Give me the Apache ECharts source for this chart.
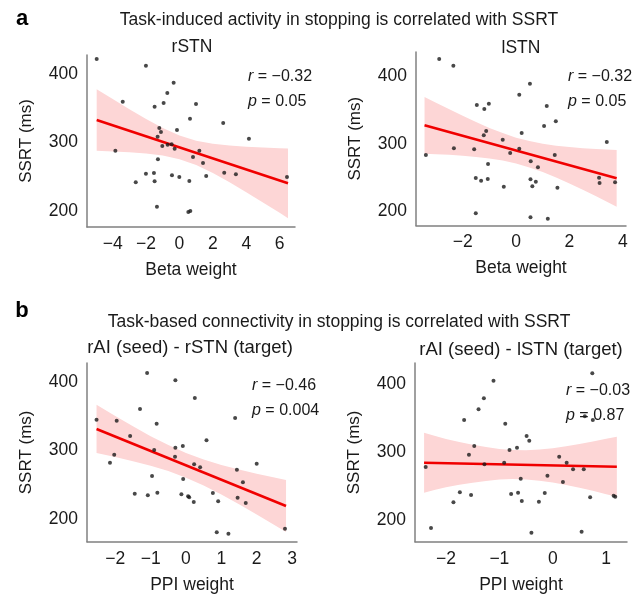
<!DOCTYPE html>
<html>
<head>
<meta charset="utf-8">
<script src="https://cdn.jsdelivr.net/npm/echarts@6/dist/echarts.min.js"></script>
<style>
  html, body { margin: 0; background: #fff; }
  #chart { width: 643px; height: 595px; }
</style>
</head>
<body>
<div id="chart"></div>
<script>
// panel a, left: rSTN beta weight vs SSRT
const rstnPoints = [[-4.96,421.9],[-2.01,412.1],[-0.35,387.3],[-0.73,372.3],[-3.40,359.6],[-0.95,357.7],[0.99,356.2],[-1.49,352.3],[0.63,334.7],[2.62,328.5],[-1.21,321.2],[-1.11,315.3],[-0.15,318.2],[-1.31,308.5],[4.16,305.5],[-3.84,288.0],[-1.03,294.9],[-0.71,296.8],[-0.47,297.4],[-0.29,290.9],[1.19,288.0],[0.81,278.8],[-1.29,275.5],[1.41,270.1],[-2.01,254.5],[-1.53,255.5],[-0.45,252.1],[-0.01,249.6],[1.60,251.1],[2.68,255.9],[3.38,253.6],[6.44,249.6],[-2.62,241.9],[-1.49,243.4],[0.59,243.8],[-1.35,206.3],[0.53,198.5],[0.65,200.0]]
const rstnFit = [[-4.96,332.8],[6.5,240.4]]
const rstnBandX = [-4.96,-4,-3,-2,-1,0,1,2,3,4,5,6,6.5]
const rstnBandLow = [287.8,286.9,285.6,283.9,280.8,275.6,267.1,255.4,242.0,227.5,212.5,197.3,189.5]
const rstnBandHigh = [377.8,363.3,348.4,334.1,321.0,310.0,302.5,298.0,295.4,293.7,292.5,291.7,291.3]

// panel a, right: lSTN
const lstnPoints = [[-2.88,425.1],[-2.35,415.2],[0.52,388.6],[0.12,372.4],[-1.47,357.2],[-1.02,359.1],[-1.19,351.3],[1.15,355.8],[1.49,333.2],[1.05,326.3],[-1.12,318.9],[0.21,315.9],[-1.21,312.5],[-0.50,306.0],[3.40,302.7],[-2.33,293.4],[-1.57,291.9],[0.12,292.8],[-3.38,283.5],[-0.22,286.4],[1.45,283.5],[0.55,274.2],[-1.05,270.2],[0.82,265.3],[-1.51,249.6],[-1.31,245.6],[-1.06,248.1],[0.54,247.6],[0.74,244.1],[3.11,250.0],[3.13,242.2],[3.71,243.2],[-0.46,236.7],[0.61,237.3],[1.55,235.3],[-1.51,197.5],[0.54,191.6],[1.19,189.5]]
const lstnFit = [[-3.43,327.3],[3.77,249.1]]
const lstnBandX = [-3.43,-3,-2.5,-2,-1.5,-1,-0.5,0,0.5,1,1.5,2,2.5,3,3.77]
const lstnBandLow = [285.5,284.7,283.7,282.4,280.6,278.4,275.2,270.9,265.1,258.3,250.2,241.5,232.2,222.6,207.3]
const lstnBandHigh = [369.1,360.5,350.8,341.2,332.2,323.4,315.8,309.1,304.1,300.1,297.3,295.1,293.6,292.4,290.9]

// panel b, left: rAI - rSTN PPI weight vs SSRT
const aiRstnPoints = [[-1.10,413.1],[-0.30,402.5],[0.25,376.6],[-1.30,360.6],[-2.53,345.0],[-1.96,343.5],[-0.83,339.1],[1.39,347.4],[-1.58,321.2],[0.58,314.9],[-0.30,304.1],[-0.09,306.6],[-0.90,300.7],[-2.03,293.9],[-0.31,290.9],[-2.15,282.2],[0.23,279.9],[0.40,275.5],[2.00,280.7],[1.44,272.0],[-0.96,262.8],[-0.08,258.4],[1.61,253.6],[-1.45,236.9],[-1.08,234.6],[-0.81,238.4],[-0.13,236.1],[0.06,233.1],[0.09,231.7],[0.22,224.8],[0.76,238.0],[0.91,225.8],[1.46,231.1],[1.69,223.4],[0.87,180.6],[1.20,178.5],[2.80,185.8]]
const aiRstnFit = [[-2.53,331.4],[2.83,219.0]]
const aiRstnBandX = [-2.53,-2,-1.5,-1,-0.5,0,0.5,1,1.5,2,2.5,2.83]
const aiRstnBandLow = [296.2,290.4,284.3,277.7,270.0,260.4,249.0,235.9,221.6,206.6,191.2,180.9]
const aiRstnBandHigh = [366.6,350.2,335.3,320.9,308.0,296.4,286.8,278.9,272.2,266.2,260.6,257.1]

// panel b, right: rAI - lSTN
const aiLstnPoints = [[0.74,416.2],[-1.11,405.2],[-1.29,379.3],[-1.39,363.0],[-1.66,347.2],[0.60,352.7],[0.75,347.2],[-0.89,341.8],[-0.49,323.6],[-0.44,316.7],[-1.47,308.9],[-0.67,306.3],[-0.81,303.0],[-1.57,296.0],[0.12,293.1],[-1.28,281.8],[-0.91,284.2],[0.26,284.2],[-2.38,277.9],[0.38,274.5],[0.58,274.5],[-0.10,265.0],[-0.60,260.6],[0.19,255.7],[-1.74,240.5],[-1.53,236.5],[-0.78,238.0],[-0.65,239.9],[-0.15,239.5],[-1.86,225.8],[-0.58,227.7],[-0.26,226.6],[0.70,233.1],[1.14,235.5],[1.17,234.0],[-2.28,187.8],[-0.40,180.9],[0.54,182.4]]
const aiLstnFit = [[-2.41,284.2],[1.2,278.3]]
const aiLstnBandX = [-2.41,-2.2,-2,-1.75,-1.5,-1.25,-1,-0.75,-0.5,-0.25,0,0.25,0.5,0.75,1,1.2]
const aiLstnBandLow = [239.9,244.2,247.9,251.6,254.6,257.3,259.3,260.0,259.5,257.7,254.9,251.4,247.2,242.7,237.8,233.9]
const aiLstnBandHigh = [328.5,323.6,319.1,314.6,310.8,307.3,304.5,303.0,302.7,303.6,305.7,308.5,311.8,315.4,319.4,322.7]

const betaTicks1 = [-4, -2, 0, 2, 4, 6]
const betaTicks2 = [-2, 0, 2, 4]
const ppiTicks1 = [-2, -1, 0, 1, 2, 3]
const ppiTicks2 = [-2, -1, 0, 1]
const ssrtTicks = [200, 300, 400]

const FONT = '"Liberation Sans", Arial, Helvetica, sans-serif'
const AXIS_COLOR = '#808080'
const TEXT = '#1a1a1a'
const FS = 17.5

const panels = [
  { grid: { left: 87, top: 55, width: 208, height: 172 }, x: [-5.54, 6.92], y: [176.6, 427.7],
    xTicks: betaTicks1, xName: 'Beta weight', pts: rstnPoints, fit: rstnFit,
    bx: rstnBandX, lo: rstnBandLow, hi: rstnBandHigh },
  { grid: { left: 416, top: 52, width: 210, height: 173.5 }, x: [-3.75, 4.12], y: [179.5, 435.4],
    xTicks: betaTicks2, xName: 'Beta weight', pts: lstnPoints, fit: lstnFit,
    bx: lstnBandX, lo: lstnBandLow, hi: lstnBandHigh },
  { grid: { left: 87, top: 363, width: 210, height: 178.7 }, x: [-2.80, 3.14], y: [166.9, 427.7],
    xTicks: ppiTicks1, xName: 'PPI weight', pts: aiRstnPoints, fit: aiRstnFit,
    bx: aiRstnBandX, lo: aiRstnBandLow, hi: aiRstnBandHigh },
  { grid: { left: 415, top: 363, width: 212, height: 178.7 }, x: [-2.58, 1.39], y: [167.6, 431.4],
    xTicks: ppiTicks2, xName: 'PPI weight', pts: aiLstnPoints, fit: aiLstnFit,
    bx: aiLstnBandX, lo: aiLstnBandLow, hi: aiLstnBandHigh },
]

const minus = v => String(v).replace('-', '\u2212')

const grid = [], xAxis = [], yAxis = [], series = []
panels.forEach((p, i) => {
  grid.push({ ...p.grid, containLabel: false })
  xAxis.push({
    type: 'value', gridIndex: i, min: p.x[0], max: p.x[1],
    name: p.xName, nameLocation: 'middle', nameGap: 34,
    nameTextStyle: { fontSize: FS, fontFamily: FONT, color: TEXT },
    axisLine: { show: true, onZero: false, lineStyle: { color: AXIS_COLOR, width: 1.5 } },
    axisTick: { show: false },
    splitLine: { show: false },
    axisLabel: { customValues: p.xTicks, formatter: minus, margin: 8,
      fontSize: FS, fontFamily: FONT, color: TEXT },
  })
  yAxis.push({
    type: 'value', gridIndex: i, min: p.y[0], max: p.y[1],
    name: 'SSRT (ms)', nameLocation: 'middle', nameGap: 52,
    nameTextStyle: { fontSize: 17, fontFamily: FONT, color: TEXT },
    axisLine: { show: true, onZero: false, lineStyle: { color: AXIS_COLOR, width: 1.5 } },
    axisTick: { show: false },
    splitLine: { show: false },
    axisLabel: { customValues: ssrtTicks, margin: 9,
      fontSize: FS, fontFamily: FONT, color: TEXT },
  })
  // 95% confidence band drawn as one polygon (upper edge out, lower edge back)
  series.push({
    type: 'custom', xAxisIndex: i, yAxisIndex: i, z: 1, silent: true, clip: true,
    data: p.bx.map((x, k) => [x, p.lo[k], p.hi[k]]),
    encode: { x: 0, y: [1, 2] },
    renderItem: (params, api) => {
      if (params.dataIndex !== 0) return null
      const upper = p.bx.map((x, k) => api.coord([x, p.hi[k]]))
      const lower = p.bx.map((x, k) => api.coord([x, p.lo[k]])).reverse()
      return { type: 'polygon', shape: { points: upper.concat(lower) },
        style: { fill: '#fdd6d6' } }
    },
  })
  series.push({
    type: 'line', xAxisIndex: i, yAxisIndex: i, symbol: 'none', z: 3,
    lineStyle: { color: '#f00000', width: 2.5 },
    data: p.fit,
  })
  series.push({
    type: 'scatter', xAxisIndex: i, yAxisIndex: i, symbolSize: 4, z: 4,
    itemStyle: { color: '#1a1a1a' },
    data: p.pts,
  })
})

const txt = (x, y, text, opts = {}) => ({
  type: 'text', x, y, z: 10,
  style: { text, fontSize: FS, fontFamily: FONT, fill: TEXT,
    align: 'center', verticalAlign: 'middle', ...opts },
})
const stat = (x, y, letter, value) => txt(x, y, `{i|${letter}} = ${value}`, {
  align: 'left', fontSize: 16,
  rich: { i: { fontStyle: 'italic', fontSize: 16, fontFamily: FONT, fill: TEXT } },
})

const chart = echarts.init(document.getElementById('chart'))
chart.setOption({
  animation: false,
  backgroundColor: '#fff',
  grid, xAxis, yAxis, series,
  graphic: [
    txt(22, 19, 'a', { fontSize: 22, fontWeight: 'bold', fill: '#000' }),
    txt(339, 20, 'Task-induced activity in stopping is correlated with SSRT'),
    txt(192, 47, 'rSTN'),
    txt(521, 48, 'lSTN'),
    stat(248, 77, 'r', '\u22120.32'),
    stat(248, 102, 'p', '0.05'),
    stat(568, 77, 'r', '\u22120.32'),
    stat(568, 102, 'p', '0.05'),
    txt(22, 311, 'b', { fontSize: 22, fontWeight: 'bold', fill: '#000' }),
    txt(339, 322, 'Task-based connectivity in stopping is correlated with SSRT'),
    txt(190, 348, 'rAI (seed) - rSTN (target)', { fontSize: 18.5 }),
    txt(521, 350, 'rAI (seed) - lSTN (target)', { fontSize: 18.5 }),
    stat(252, 386, 'r', '\u22120.46'),
    stat(252, 411, 'p', '0.004'),
    stat(566, 391, 'r', '\u22120.03'),
    stat(566, 416, 'p', '0.87'),
  ],
})
</script>
</body>
</html>
